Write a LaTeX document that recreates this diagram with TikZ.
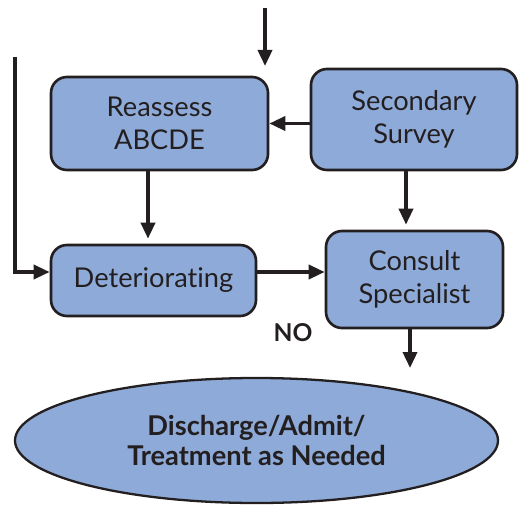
\documentclass[tikz,border=0pt]{standalone}
\usepackage{fontspec}
\setmainfont{Lato}[Ligatures={NoCommon,NoContextual}]
\usetikzlibrary{arrows.meta,shapes.geometric}
\definecolor{boxblue}{HTML}{8EAAD8}
\definecolor{ink}{HTML}{231F20}
\tikzset{
  stepbox/.style={draw=ink, fill=boxblue, line width=1.5pt, rounded corners=0.32cm,
    text=ink, align=center, font=\fontsize{15.5}{18.5}\selectfont, inner sep=0pt},
  endbox/.style={draw=ink, fill=boxblue, line width=1.3pt, ellipse, inner sep=0pt,
    text=ink, align=center, font=\fontsize{15.5}{17}\selectfont\bfseries},
  arr/.style={->, draw=ink, line width=2pt}
}
\begin{document}
\begin{tikzpicture}[>={Triangle[length=3.2mm,width=2.8mm]}]
\useasboundingbox (0,0) rectangle (10.4,-10.08);

\node[stepbox, minimum width=4.34cm, minimum height=1.86cm] (reas) at (3.19,-2.47) {Reassess\\ABCDE};
\node[stepbox, minimum width=4.12cm, minimum height=2.02cm] (sec) at (8.28,-2.39) {Secondary\\Survey};
\node[stepbox, minimum width=4.10cm, minimum height=1.42cm] (det) at (3.07,-5.61) {Deteriorating};
\node[stepbox, minimum width=3.54cm, minimum height=1.94cm] (con) at (8.29,-5.59) {Consult\\Specialist};
\node[endbox, minimum width=9.66cm, minimum height=2.50cm] (dis) at (5.13,-8.81) {Discharge/Admit/\\Treatment as Needed};

\coordinate (intop) at (5.30,-0.16);
\coordinate (intopend) at (5.30,-1.32);
\coordinate (inleft) at (0.30,-1.14);
\coordinate (outdown) at (8.20,-7.36);
\coordinate (detout) at ([yshift=1.7mm]det.east);

% arrows
\draw[arr] (intop) -- (intopend);
\draw[arr] (sec.west |- reas.east) -- (reas.east);
\draw[arr, shorten >=0.1cm] ([xshift=-2.3mm]reas.south) -- ([xshift=-2.3mm]reas.south |- det.north);
\draw[arr, shorten >=0.1cm] ([xshift=-1.6mm]sec.south) -- ([xshift=-1.6mm]sec.south |- con.north);
\draw[arr] (inleft) |- ([yshift=1.7mm]det.west);
\draw[arr] (detout) -- (con.west |- detout);
\draw[arr] (outdown |- con.south) -- (outdown);

\node[text=ink, font=\fontsize{14}{17}\selectfont\bfseries] (no) at (5.86,-6.66) {NO};

\end{tikzpicture}
\end{document}
